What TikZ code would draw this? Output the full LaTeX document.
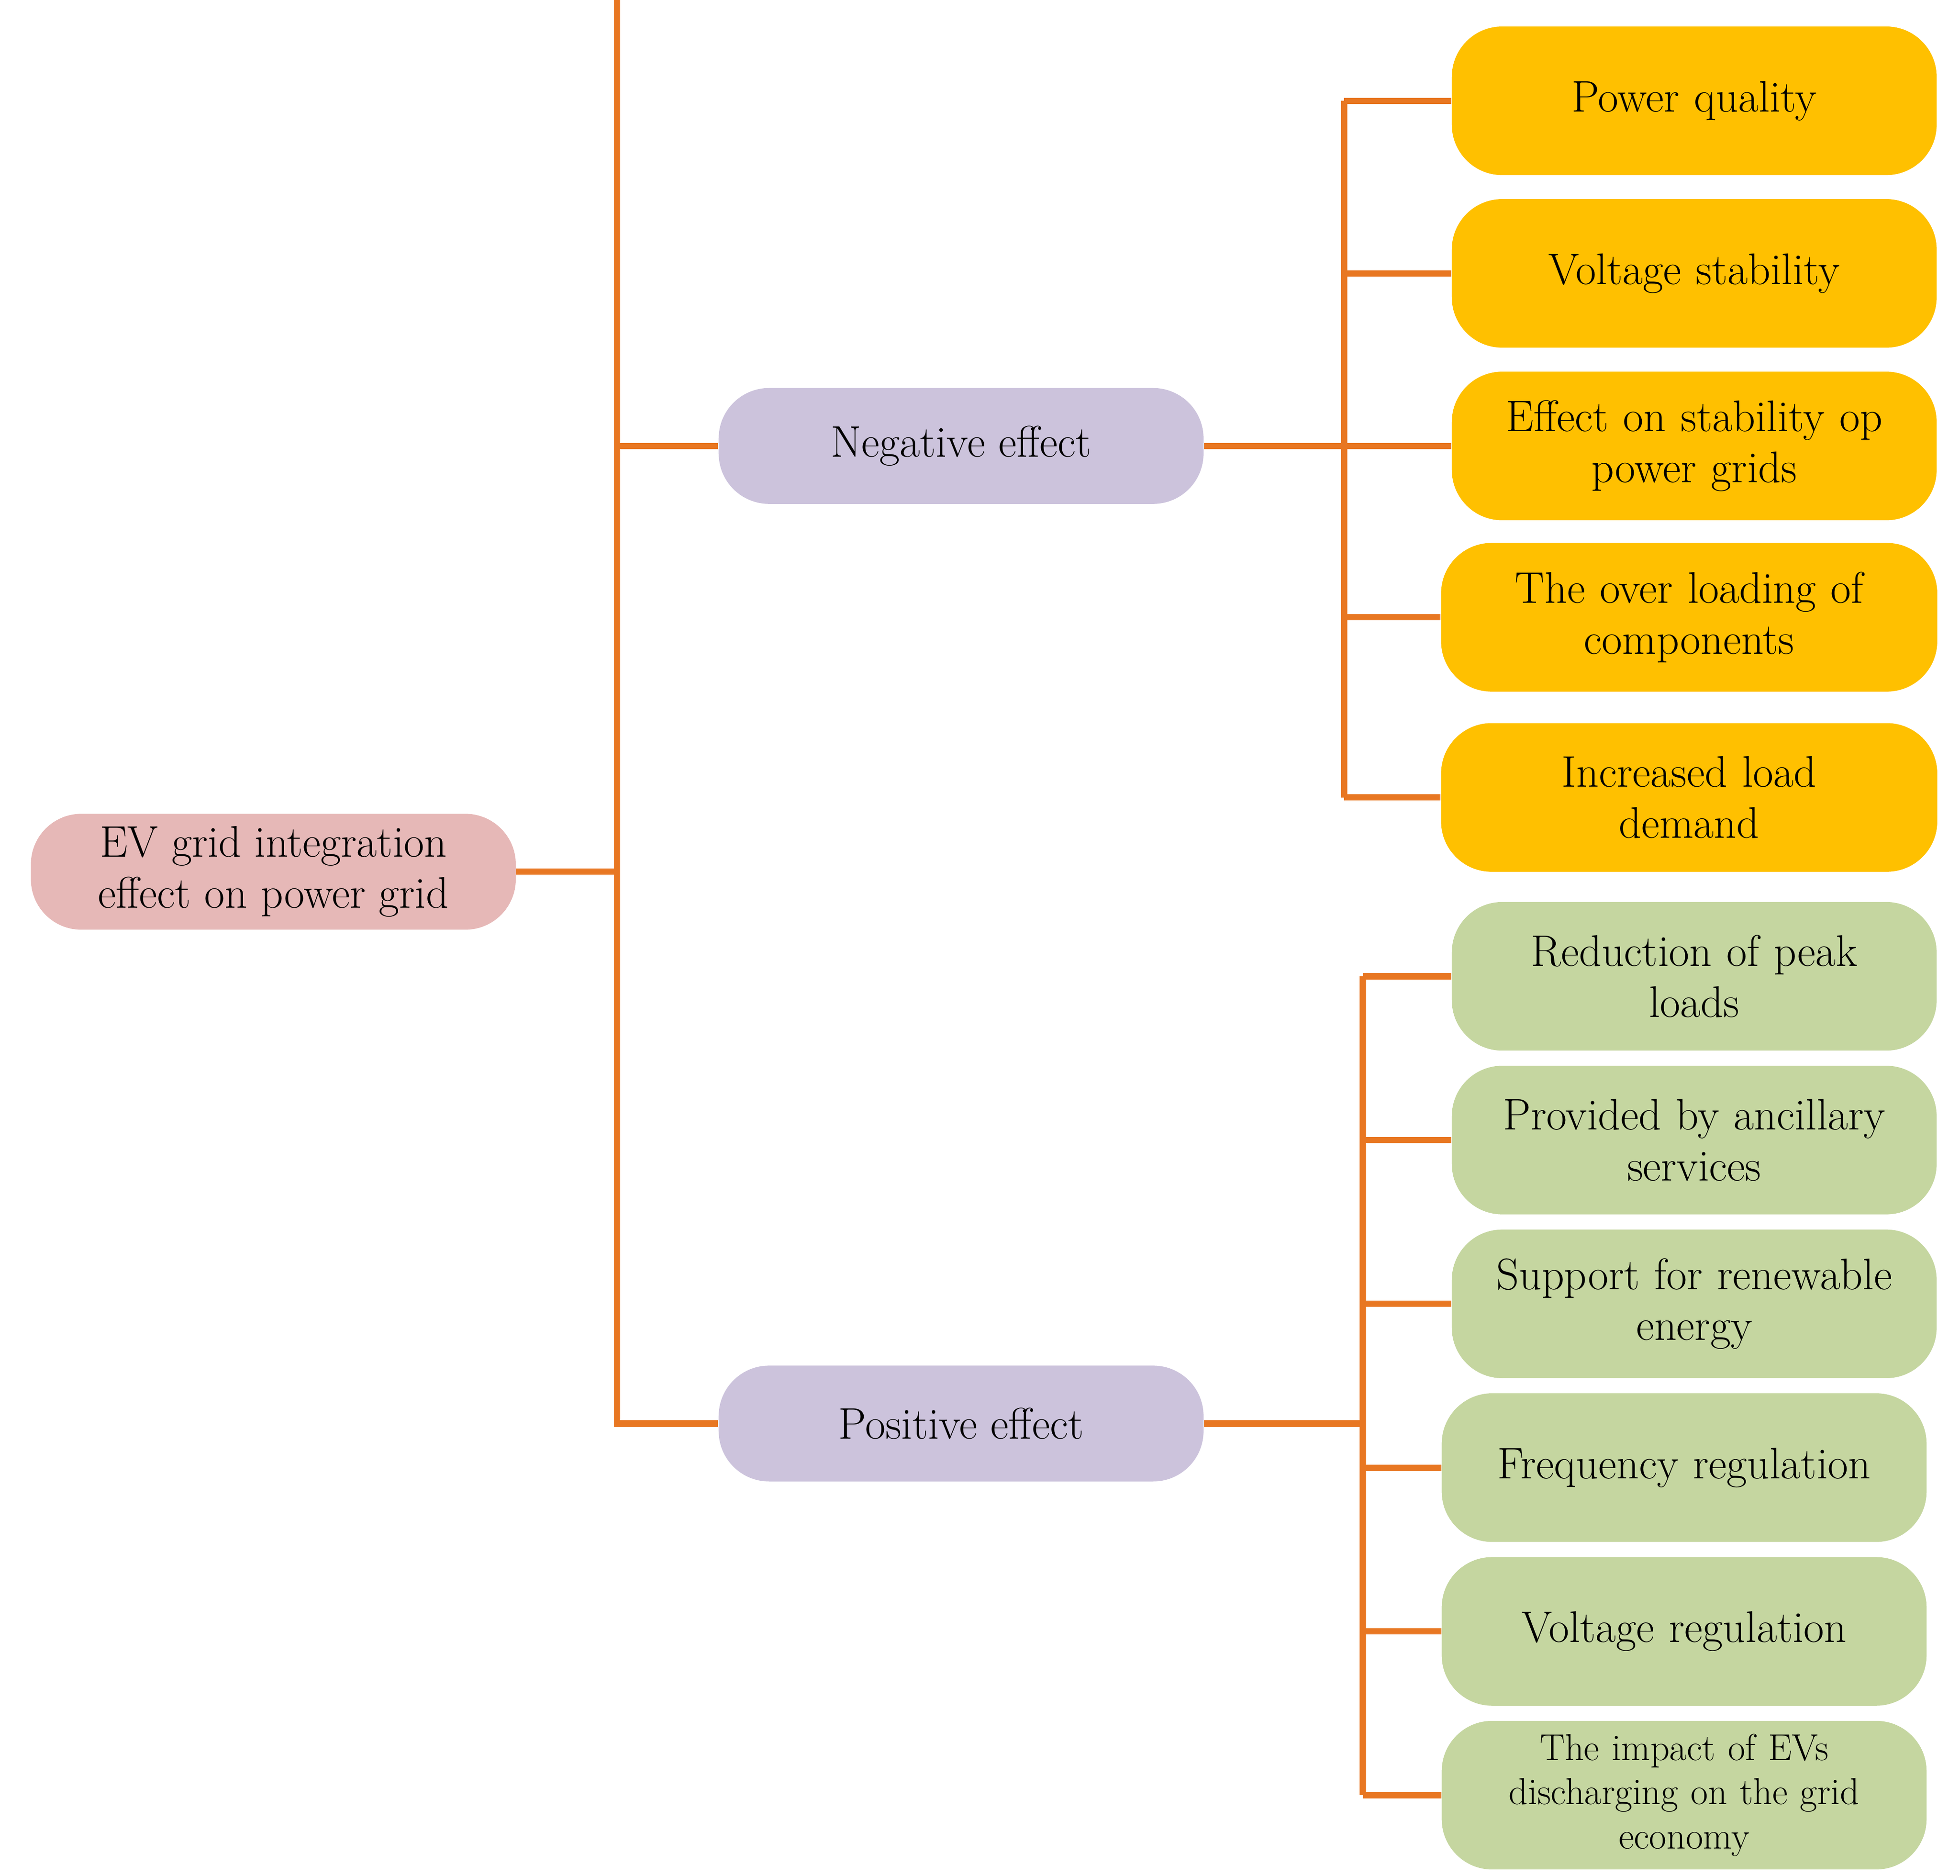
\documentclass[tikz,border=0pt]{standalone}
\begin{document}
\begin{tikzpicture}[x=0.02cm,y=-0.02cm,
 box/.style={rounded corners=0.8cm,draw=none,align=center,font=\fontsize{20}{23}\selectfont,inner sep=2pt},
 leaf/.style={box,minimum width=7.7cm,minimum height=2.36cm,text width=7.5cm},
 yel/.style={leaf,fill=yellow!50!orange!20!white,fill={rgb,255:red,255;green,192;blue,0}},
 grn/.style={leaf,fill={rgb,255:red,197;green,214;blue,160}},
 mid/.style={box,minimum width=7.7cm,minimum height=1.84cm,fill={rgb,255:red,204;green,195;blue,220}},
 con/.style={draw={rgb,255:red,232;green,119;blue,34},line width=2.8pt}]
\useasboundingbox (0,0) rectangle (1556,1489);
\node[box,minimum width=7.7cm,minimum height=1.84cm,fill={rgb,255:red,230;green,184;blue,183}] (root) at (217,692) {EV grid integration\\effect on power grid};
\node[mid] (neg) at (763,354) {Negative effect};
\node[mid] (pos) at (763,1130) {Positive effect};
\node[yel] (y1) at (1345,80) {Power quality};
\node[yel] (y2) at (1345,217) {Voltage stability};
\node[yel] (y3) at (1345,354) {Effect on stability op\\power grids};
\node[yel,minimum width=7.88cm] (y4) at (1341,490) {The over loading of\\components};
\node[yel,minimum width=7.88cm] (y5) at (1341,633) {Increased load\\demand};
\node[grn] (g1) at (1345,775) {Reduction of peak\\loads};
\node[grn] (g2) at (1345,905) {Provided by ancillary\\services};
\node[grn] (g3) at (1345,1035) {Support for renewable\\energy};
\node[grn] (g4) at (1337,1165) {Frequency regulation};
\node[grn] (g5) at (1337,1295) {Voltage regulation};
\node[grn,font=\fontsize{17}{20}\selectfont] (g6) at (1337,1425) {The impact of EVs\\discharging on the grid\\economy};
\coordinate (rb) at (490,0);
\coordinate (nb) at (1067,0);
\coordinate (pb) at (1082,0);
\draw[con] (root.east) -- (root.east -| rb);
\draw[con] (neg.west) -| (rb) |- (pos.west);
\draw[con] (rb |- neg.west) -- (neg.west);
\draw[con] (neg.east) -- (neg.east -| nb);
\draw[con] (y1.west -| nb) -- (y5.west -| nb);
\foreach \n in {y1,y2,y3,y4,y5} \draw[con] (\n.west -| nb) -- (\n.west);
\draw[con] (pos.east) -- (pos.east -| pb);
\draw[con] (g1.west -| pb) -- (g6.west -| pb);
\foreach \n in {g1,g2,g3,g4,g5,g6} \draw[con] (\n.west -| pb) -- (\n.west);
\end{tikzpicture}
\end{document}
